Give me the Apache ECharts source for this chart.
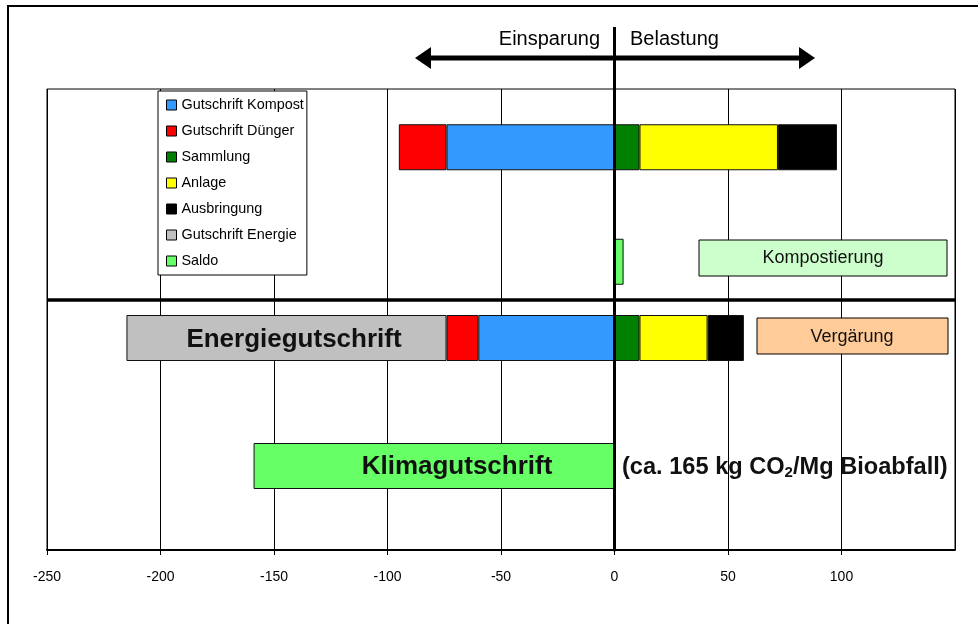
<!DOCTYPE html>
<html>
<head>
<meta charset="utf-8">
<script src="https://cdn.jsdelivr.net/npm/echarts@6/dist/echarts.min.js"></script>
<style>html,body{margin:0;padding:0;background:#fff}#c{width:978px;height:624px}</style>
</head>
<body>
<div id="c"></div>
<script>
// ---- data (kg CO2 per Mg Bioabfall) ----
const processes = ['Kompostierung', 'Vergärung'];
const gutschriftKompost = [-74, -60];
const gutschriftDuenger = [-21, -14];
const gutschriftEnergie = [null, -141];
const sammlung = [11, 11];
const anlage = [61, 30];
const ausbringung = [26, 16];
const saldo = [4, -159];
const rowLabels = ['Bilanz', 'Saldo'];
const xMin = -250, xMax = 150, xStep = 50;

const seriesDefs = [
  { name: 'Gutschrift Kompost', values: gutschriftKompost, color: '#3399FF' },
  { name: 'Gutschrift Dünger', values: gutschriftDuenger, color: '#FF0000' },
  { name: 'Gutschrift Energie', values: gutschriftEnergie, color: '#C0C0C0' },
  { name: 'Sammlung', values: sammlung, color: '#008000' },
  { name: 'Anlage', values: anlage, color: '#FFFF00' },
  { name: 'Ausbringung', values: ausbringung, color: '#000000' }
];
const saldoColor = '#66FF66';
const legendOrder = ['Gutschrift Kompost', 'Gutschrift Dünger', 'Sammlung', 'Anlage', 'Ausbringung', 'Gutschrift Energie', 'Saldo'];

const FONT = "'Liberation Sans', Arial, sans-serif";

const chart = echarts.init(document.getElementById('c'));

const grids = [
  { left: 47, width: 908, top: 89, height: 461, show: true, borderColor: '#000', borderWidth: 1 },
  { left: 47, width: 908, top: 90, height: 229 },
  { left: 47, width: 908, top: 274, height: 256 }
];

const xAxes = [
  {
    gridIndex: 0, type: 'value', min: xMin, max: xMax, interval: xStep,
    axisLine: { show: true, onZero: false, lineStyle: { color: '#000', width: 2 } },
    axisTick: { show: true, length: 5, lineStyle: { color: '#000', width: 1 } },
    axisLabel: { color: '#000', fontSize: 14, fontFamily: FONT, margin: 20, showMaxLabel: false },
    splitLine: { show: true, lineStyle: { color: '#000', width: 1 } }
  },
  { gridIndex: 1, type: 'value', min: xMin, max: xMax, show: false, splitLine: { show: false } },
  { gridIndex: 2, type: 'value', min: xMin, max: xMax, show: false, splitLine: { show: false } }
];

const yAxes = [
  {
    gridIndex: 0, type: 'value', min: 0, max: 1, z: 10,
    axisLine: { show: true, onZero: true, lineStyle: { color: '#000', width: 3 } },
    axisTick: { show: false }, axisLabel: { show: false }, splitLine: { show: false }
  },
  { gridIndex: 1, type: 'category', data: rowLabels, inverse: true, show: false },
  { gridIndex: 2, type: 'category', data: rowLabels, inverse: true, show: false }
];

const series = [];
processes.forEach(function (p, i) {
  seriesDefs.forEach(function (d) {
    if (d.values[i] === null) return;
    series.push({
      name: d.name, type: 'bar', stack: p,
      xAxisIndex: i + 1, yAxisIndex: i + 1,
      barWidth: 46,
      itemStyle: { color: d.color, borderColor: '#111', borderWidth: 1 },
      data: [d.values[i], null]
    });
  });
  series.push({
    name: 'Saldo', type: 'bar', stack: p,
    xAxisIndex: i + 1, yAxisIndex: i + 1,
    barWidth: 46,
    itemStyle: { color: saldoColor, borderColor: '#111', borderWidth: 1 },
    data: [null, saldo[i]]
  });
});

chart.setOption({
  animation: false,
  backgroundColor: '#fff',
  grid: grids,
  xAxis: xAxes,
  yAxis: yAxes,
  legend: {
    data: legendOrder, orient: 'vertical', left: 158, top: 91,
    backgroundColor: '#fff', borderColor: '#000', borderWidth: 1,
    padding: [6, 3, 6, 8], itemWidth: 10, itemHeight: 10, itemGap: 10,
    icon: 'rect', selectedMode: false,
    itemStyle: { borderColor: '#000', borderWidth: 1 },
    textStyle: { fontSize: 14.4, lineHeight: 16, fontFamily: FONT, color: '#000' }
  },
  series: series
});

// ---- annotations (drawn shapes of the original figure) ----
const zeroX = chart.convertToPixel({ xAxisIndex: 0 }, 0);
const plotL = chart.convertToPixel({ xAxisIndex: 0 }, xMin);
const plotR = chart.convertToPixel({ xAxisIndex: 0 }, xMax);
const arrowY = 58;

chart.setOption({
  graphic: [
    { type: 'rect', shape: { x: 8, y: 6, width: 1100, height: 800 }, style: { fill: 'none', stroke: '#000', lineWidth: 2 }, z: 100, silent: true },
    { type: 'line', shape: { x1: zeroX, y1: 27, x2: zeroX, y2: 90 }, style: { stroke: '#000', lineWidth: 3 }, z: 100 },
    { type: 'line', shape: { x1: 428, y1: arrowY, x2: 802, y2: arrowY }, style: { stroke: '#000', lineWidth: 5 }, z: 100 },
    { type: 'polygon', shape: { points: [[415, arrowY], [431, arrowY - 11], [431, arrowY + 11]] }, style: { fill: '#000' }, z: 100 },
    { type: 'polygon', shape: { points: [[815, arrowY], [799, arrowY - 11], [799, arrowY + 11]] }, style: { fill: '#000' }, z: 100 },
    { type: 'text', x: 600, y: 39, style: { text: 'Einsparung', font: '20px ' + FONT, fill: '#000', align: 'right', verticalAlign: 'middle' }, z: 100 },
    { type: 'text', x: 630, y: 39, style: { text: 'Belastung', font: '20px ' + FONT, fill: '#000', align: 'left', verticalAlign: 'middle' }, z: 100 },
    { type: 'line', shape: { x1: plotL, y1: 300, x2: plotR, y2: 300 }, style: { stroke: '#000', lineWidth: 3.5 }, z: 100 },
    { type: 'rect', shape: { x: 699, y: 240, width: 248, height: 36 }, style: { fill: '#CCFFCC', stroke: '#000', lineWidth: 1 }, z: 100 },
    { type: 'text', x: 823, y: 258, style: { text: 'Kompostierung', font: '18px ' + FONT, fill: '#111', align: 'center', verticalAlign: 'middle' }, z: 101 },
    { type: 'rect', shape: { x: 757, y: 318, width: 191, height: 36 }, style: { fill: '#FFCC99', stroke: '#000', lineWidth: 1 }, z: 100 },
    { type: 'text', x: 852, y: 337, style: { text: 'Vergärung', font: '18px ' + FONT, fill: '#111', align: 'center', verticalAlign: 'middle' }, z: 101 },
    { type: 'text', x: 294, y: 340, style: { text: 'Energiegutschrift', font: 'bold 26px ' + FONT, fill: '#111', align: 'center', verticalAlign: 'middle' }, z: 101 },
    { type: 'text', x: 457, y: 467, style: { text: 'Klimagutschrift', font: 'bold 26px ' + FONT, fill: '#111', align: 'center', verticalAlign: 'middle' }, z: 101 },
    { type: 'text', x: 622, y: 467, style: {
        text: '{a|(ca. 165 kg CO}{s|2}{a|/Mg Bioabfall)}', align: 'left', verticalAlign: 'middle',
        rich: {
          a: { fontSize: 23.6, fontWeight: 'bold', fontFamily: FONT, fill: '#111', color: '#111', lineHeight: 26 },
          s: { fontSize: 15, fontWeight: 'bold', fontFamily: FONT, fill: '#111', color: '#111', lineHeight: 26, verticalAlign: 'bottom', padding: [10, 0, 0, 0] }
        }
      }, z: 101 }
  ]
});
</script>
</body>
</html>
